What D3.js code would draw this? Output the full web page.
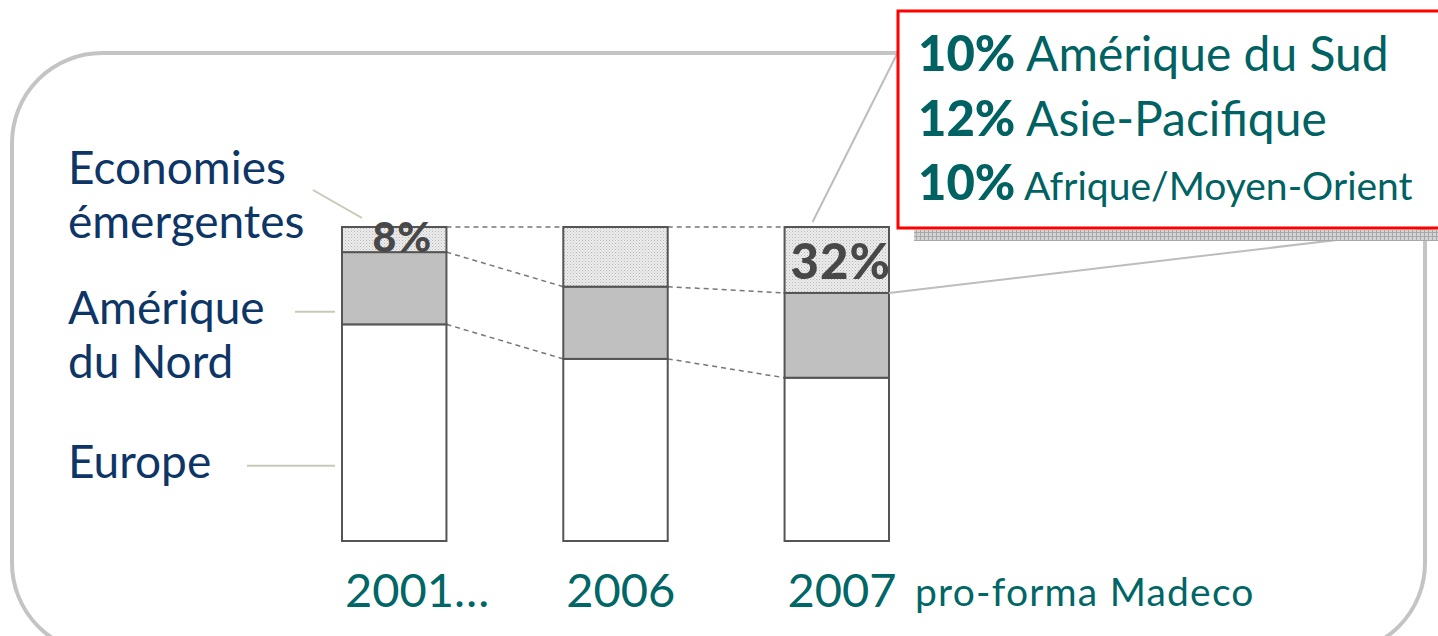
<!DOCTYPE html>
<html>
<head>
<meta charset="utf-8">
<script src="https://cdn.jsdelivr.net/npm/d3@7"></script>
<style>
  body { margin: 0; background: #fff; }
  svg { display: block; font-family: Lato, 'Open Sans', sans-serif; }
</style>
</head>
<body>
<script>
// data (share of sales, %)
const years = ['2001…', '2006', '2007']
const europe = [69, 58, 52]
const northAmerica = [23, 23, 27]
const emerging = [8, 19, 21]
const barLabels = ['8%', '', '32%']
const regionLabels = [['Economies', 'émergentes'], ['Amérique', 'du Nord'], ['Europe']]
const detailPct = ['10%', '12%', '10%']
const detailNames = ['Amérique du Sud', 'Asie-Pacifique', 'Afrique/Moyen-Orient']

const w = 1438
const h = 636

const svg = d3.select('body')
    .append('svg')
    .attr('width', w)
    .attr('height', h)

// dotted fill for emerging economies
const defs = svg.append('defs')
const dots = defs.append('pattern')
    .attr('id', 'dots')
    .attr('width', 3).attr('height', 3)
    .attr('patternUnits', 'userSpaceOnUse')
dots.append('rect').attr('width', 3).attr('height', 3).attr('fill', '#ececec')
dots.append('rect').attr('width', 1).attr('height', 1).attr('fill', '#b8b8b8')
dots.append('rect').attr('x', 1.5).attr('y', 1.5).attr('width', 1).attr('height', 1).attr('fill', '#c8c8c8')

// grid pattern for the box shadow
const grid = defs.append('pattern')
    .attr('id', 'grid')
    .attr('width', 4).attr('height', 4)
    .attr('patternUnits', 'userSpaceOnUse')
grid.append('rect').attr('width', 4).attr('height', 4).attr('fill', '#d4d4d4')
grid.append('path').attr('d', 'M0,0.5H4M0.5,0V4').attr('stroke', '#a8a8a8').attr('stroke-width', 1)

// rounded frame
svg.append('rect')
    .attr('x', 12).attr('y', 53)
    .attr('width', 1413).attr('height', 600)
    .attr('rx', 90).attr('ry', 90)
    .attr('fill', 'none')
    .attr('stroke', '#c4c4c4')
    .attr('stroke-width', 4)

const x = d3.scaleBand()
    .domain(years)
    .range([342, 889])
    .paddingInner(0.528)
    .paddingOuter(0)

const y = d3.scaleLinear()
    .domain([0, 100])
    .range([541, 227])

// stack the series
const rows = years.map((yr, i) => ({ year: yr, europe: europe[i], na: northAmerica[i], em: emerging[i] }))
const stack = d3.stack().keys(['europe', 'na', 'em'])(rows)
const fills = { europe: '#ffffff', na: '#c0c0c0', em: 'url(#dots)' }

// dashed connectors between bars
const bounds = stack.map(s => s.map(d => d[1]))
bounds.forEach(b => {
    for (let i = 0; i < years.length - 1; i++) {
        svg.append('line')
            .attr('x1', x(years[i]) + x.bandwidth()).attr('y1', y(b[i]))
            .attr('x2', x(years[i + 1])).attr('y2', y(b[i + 1]))
            .attr('stroke', '#777')
            .attr('stroke-width', 1.5)
            .attr('stroke-dasharray', '5,4')
    }
})

svg.append('g')
    .selectAll('g')
    .data(stack)
    .enter()
    .append('g')
    .attr('fill', d => fills[d.key])
    .selectAll('rect')
    .data(d => d)
    .enter()
    .append('rect')
    .attr('x', d => x(d.data.year))
    .attr('y', d => y(d[1]))
    .attr('width', x.bandwidth())
    .attr('height', d => y(d[0]) - y(d[1]))
    .attr('stroke', '#555')
    .attr('stroke-width', 2)

// percent labels on the emerging segment
svg.append('g')
    .selectAll('text')
    .data(barLabels)
    .enter()
    .append('text')
    .attr('x', (d, i) => x(years[i]) + x.bandwidth() / 2 + (i === 0 ? 8 : 4))
    .attr('y', (d, i) => i === 0 ? 252 : 279)
    .attr('text-anchor', 'middle')
    .attr('fill', '#484848')
    .style('font-weight', 900)
    .style('letter-spacing', '1px')
    .style('font-size', (d, i) => i === 0 ? '41px' : '49px')
    .text(d => d)

// year labels
svg.append('g')
    .selectAll('text')
    .data(years)
    .enter()
    .append('text')
    .attr('x', d => x(d) + 3)
    .attr('y', 607)
    .attr('fill', '#006666')
    .style('font-size', '47px')
    .text(d => d)

svg.append('text')
    .attr('x', 915).attr('y', 606)
    .attr('fill', '#006666')
    .style('font-size', '39px')
    .style('letter-spacing', '1.2px')
    .text('pro-forma Madeco')

// region labels with leader lines
const leaders = [
    [[313, 190], [362, 218]],
    [[295, y(73)], [335, y(73)]],
    [[247, y(24)], [335, y(24)]]
]
regionLabels.forEach((lines, i) => {
    const t = svg.append('text')
        .attr('x', 68).attr('y', [184, 324, 478][i])
        .attr('fill', '#0d3566')
        .style('font-size', '46px')
    lines.forEach((l, j) => {
        t.append('tspan').attr('x', 68).attr('dy', j ? 54 : 0).text(l)
    })
    svg.append('line')
        .attr('x1', leaders[i][0][0]).attr('y1', leaders[i][0][1])
        .attr('x2', leaders[i][1][0]).attr('y2', leaders[i][1][1])
        .attr('stroke', '#c8c8b8')
        .attr('stroke-width', 2)
})

// callout from the 2007 emerging segment
const bx = x(years[2])
svg.append('line')
    .attr('x1', bx + 28).attr('y1', y(100) - 5)
    .attr('x2', 898).attr('y2', 52)
    .attr('stroke', '#bdbdbd').attr('stroke-width', 2)
svg.append('line')
    .attr('x1', bx + x.bandwidth()).attr('y1', y(bounds[1][2]))
    .attr('x2', 1438).attr('y2', 228)
    .attr('stroke', '#bdbdbd').attr('stroke-width', 2)

svg.append('rect')
    .attr('x', 914).attr('y', 230)
    .attr('width', 530).attr('height', 11)
    .attr('fill', 'url(#grid)')

svg.append('rect')
    .attr('x', 898).attr('y', 11)
    .attr('width', 560).attr('height', 217)
    .attr('fill', '#fff')
    .attr('stroke', '#ff0000')
    .attr('stroke-width', 3)

const detail = svg.append('g')
detailPct.forEach((p, i) => {
    const t = detail.append('text')
        .attr('x', 918).attr('y', 71 + i * 64.5)
        .attr('fill', '#006262')
        .style('font-size', i === 2 ? '39px' : '48px')
    t.append('tspan').style('font-weight', 900).style('font-size', '49px').text(p)
    t.append('tspan').text(' ' + detailNames[i])
})
</script>
</body>
</html>
